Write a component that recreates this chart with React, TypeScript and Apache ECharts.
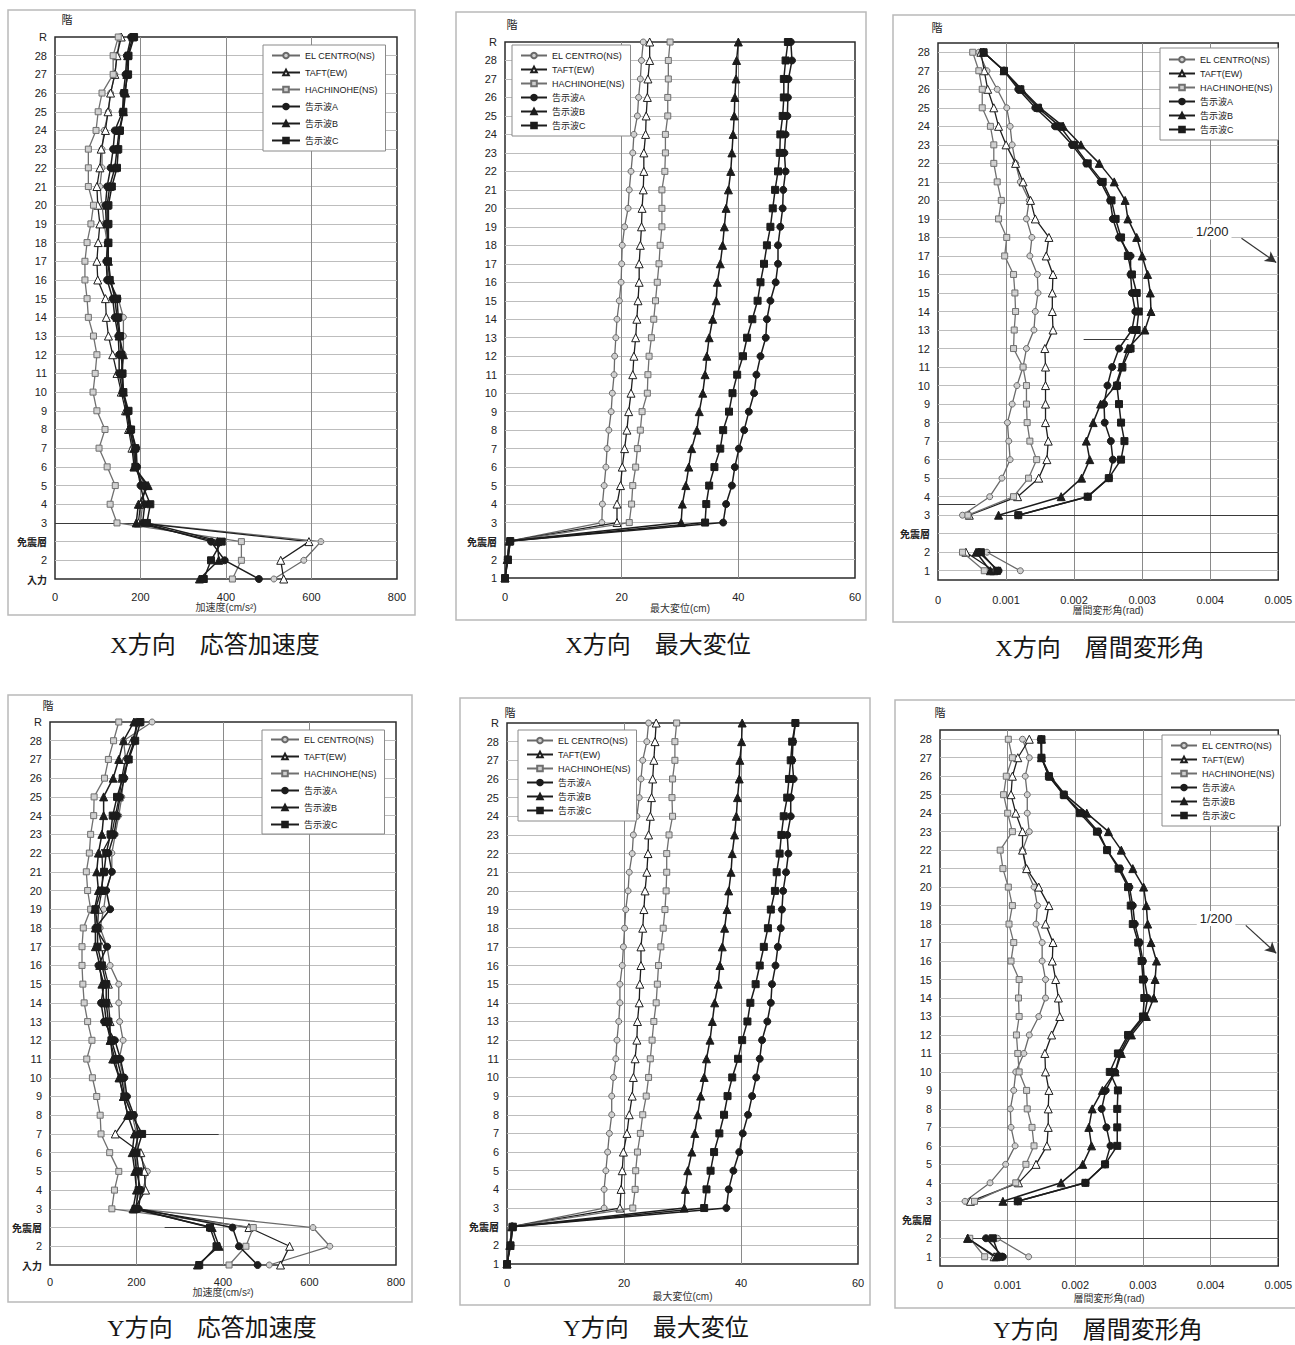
import React, { useEffect, useRef } from "react";
import * as echarts from "echarts";

// Story labels, listed bottom to top
const ACC_LEVELS = ["入力", "2", "免震層", "3", "4", "5", "6", "7", "8", "9", "10", "11", "12", "13", "14", "15", "16", "17", "18", "19", "20", "21", "22", "23", "24", "25", "26", "27", "28", "R"];
const DISP_LEVELS = ["1", "2", "免震層", "3", "4", "5", "6", "7", "8", "9", "10", "11", "12", "13", "14", "15", "16", "17", "18", "19", "20", "21", "22", "23", "24", "25", "26", "27", "28", "R"];
const DRIFT_LEVELS = ["1", "2", "免震層", "3", "4", "5", "6", "7", "8", "9", "10", "11", "12", "13", "14", "15", "16", "17", "18", "19", "20", "21", "22", "23", "24", "25", "26", "27", "28"];

const WAVES = ["EL CENTRO(NS)", "TAFT(EW)", "HACHINOHE(NS)", "告示波A", "告示波B", "告示波C"];

// X direction: response acceleration (cm/s2), 入力 .. R
const X_ACC_ELCENTRO = [512, 582, 622, 200, 205, 210, 190, 182, 175, 168, 160, 158, 160, 160, 160, 148, 125, 120, 122, 115, 110, 105, 110, 110, 115, 125, 130, 140, 145, 152];
const X_ACC_TAFT = [535, 528, 594, 195, 200, 215, 185, 180, 172, 165, 155, 145, 135, 125, 120, 118, 100, 98, 101, 105, 100, 98, 105, 108, 118, 124, 130, 140, 145, 155];
const X_ACC_HACHINOHE = [415, 436, 436, 145, 129, 141, 122, 103, 117, 98, 89, 94, 98, 90, 78, 75, 70, 70, 75, 84, 90, 78, 78, 78, 96, 101, 110, 136, 136, 148];
const X_ACC_A = [477, 397, 365, 205, 210, 200, 192, 190, 178, 170, 158, 150, 150, 148, 140, 135, 122, 120, 124, 120, 118, 122, 130, 136, 140, 158, 160, 165, 168, 178];
const X_ACC_B = [338, 383, 380, 190, 195, 218, 185, 185, 175, 168, 160, 155, 160, 150, 145, 140, 130, 125, 124, 122, 122, 128, 140, 145, 150, 160, 165, 168, 170, 182];
const X_ACC_C = [348, 365, 390, 215, 223, 205, 188, 188, 178, 172, 160, 158, 155, 152, 148, 145, 128, 124, 125, 125, 125, 133, 145, 148, 152, 160, 162, 171, 172, 185];

// X direction: maximum displacement (cm), 1 .. R
const X_DISP_ELCENTRO = [0, 0.4, 0.7, 16.6, 16.7, 17.0, 17.3, 17.5, 17.8, 18.2, 18.4, 18.7, 18.8, 19.0, 19.2, 19.6, 19.9, 20.0, 20.1, 20.5, 21.1, 21.3, 21.6, 21.9, 22.1, 22.7, 22.9, 23.2, 23.4, 23.7];
const X_DISP_TAFT = [0, 0.4, 0.7, 19.2, 19.2, 19.8, 20.1, 20.5, 20.9, 21.2, 21.6, 21.9, 22.1, 22.4, 22.6, 22.8, 23.0, 23.0, 23.2, 23.4, 23.5, 23.7, 23.8, 23.8, 24.1, 24.2, 24.4, 24.5, 24.8, 24.8];
const X_DISP_HACHINOHE = [0, 0.4, 0.8, 21.3, 21.7, 21.9, 22.4, 22.7, 23.2, 23.5, 24.4, 24.5, 24.7, 25.1, 25.5, 25.8, 26.1, 26.4, 26.6, 26.9, 26.9, 26.9, 27.4, 27.5, 27.5, 27.9, 27.9, 28.0, 28.0, 28.3];
const X_DISP_A = [0, 0.5, 0.9, 37.4, 37.9, 38.9, 39.4, 40.1, 41.0, 41.8, 42.7, 43.1, 43.8, 44.7, 44.9, 45.5, 46.4, 46.8, 46.8, 47.2, 47.6, 47.7, 48.1, 47.9, 48.1, 48.4, 48.5, 48.6, 49.2, 49.0];
const X_DISP_B = [0, 0.4, 0.8, 30.2, 30.4, 31.0, 31.5, 32.0, 32.9, 33.3, 33.9, 34.3, 34.6, 35.0, 35.6, 36.2, 36.4, 36.9, 37.3, 37.6, 37.9, 38.3, 38.7, 38.9, 39.1, 39.3, 39.4, 39.6, 39.7, 40.0];
const X_DISP_C = [0, 0.5, 0.9, 34.3, 34.5, 35.0, 35.9, 36.9, 37.4, 38.4, 39.0, 39.8, 40.8, 41.5, 42.4, 43.3, 43.8, 44.4, 44.9, 45.5, 45.9, 46.3, 46.8, 47.1, 47.2, 47.6, 47.8, 47.8, 48.1, 48.5];

// X direction: story drift angle (rad), 1 .. 28 (no value for the isolation story)
const X_DRIFT_ELCENTRO = [0.00121, 0.00072, null, 0.00036, 0.00076, 0.00094, 0.00106, 0.00104, 0.00102, 0.00109, 0.00116, 0.00125, 0.0013, 0.00141, 0.00143, 0.00147, 0.00146, 0.00135, 0.00138, 0.0013, 0.00134, 0.00121, 0.00114, 0.00109, 0.00106, 0.00101, 0.00087, 0.00072, 0.0006];
const X_DRIFT_TAFT = [0.00082, 0.00041, null, 0.00046, 0.00117, 0.00148, 0.0016, 0.00162, 0.00158, 0.00158, 0.00158, 0.00158, 0.00157, 0.00169, 0.00168, 0.00168, 0.00169, 0.00159, 0.00163, 0.00143, 0.00136, 0.00125, 0.00114, 0.001, 0.00089, 0.00082, 0.00073, 0.00068, 0.00063];
const X_DRIFT_HACHINOHE = [0.00068, 0.00036, null, 0.00044, 0.00111, 0.00133, 0.00145, 0.00135, 0.00131, 0.0013, 0.0013, 0.00125, 0.00111, 0.00112, 0.00114, 0.00113, 0.00111, 0.00098, 0.00101, 0.00089, 0.00093, 0.00087, 0.00082, 0.00082, 0.00077, 0.00065, 0.00065, 0.0006, 0.00051];
const X_DRIFT_A = [0.00089, 0.0006, null, 0.00118, 0.0022, 0.00251, 0.00257, 0.00254, 0.00245, 0.00244, 0.00249, 0.00256, 0.00266, 0.00285, 0.0029, 0.00285, 0.00283, 0.00283, 0.00266, 0.00257, 0.00253, 0.00239, 0.00218, 0.00197, 0.00172, 0.00143, 0.00118, 0.00097, 0.00067];
const X_DRIFT_B = [0.00077, 0.00056, null, 0.00089, 0.00181, 0.00211, 0.00223, 0.00218, 0.00228, 0.00239, 0.00261, 0.0027, 0.00279, 0.00304, 0.00313, 0.00312, 0.00308, 0.003, 0.00292, 0.00279, 0.00275, 0.00259, 0.00237, 0.0021, 0.00184, 0.0015, 0.00123, 0.00097, 0.00067];
const X_DRIFT_C = [0.00087, 0.00063, null, 0.00118, 0.0022, 0.00251, 0.00269, 0.00274, 0.00269, 0.00266, 0.00263, 0.00271, 0.00283, 0.00292, 0.00295, 0.00292, 0.00285, 0.00279, 0.00269, 0.00261, 0.00255, 0.00242, 0.0022, 0.002, 0.00179, 0.00147, 0.00121, 0.00097, 0.00067];

// Y direction: response acceleration (cm/s2), 入力 .. R
const Y_ACC_ELCENTRO = [507, 647, 608, 200, 215, 225, 205, 200, 190, 175, 170, 160, 169, 161, 159, 159, 139, 132, 116, 124, 130, 143, 143, 151, 159, 166, 170, 175, 170, 236];
const Y_ACC_TAFT = [533, 554, 460, 195, 221, 218, 210, 151, 180, 170, 160, 150, 139, 139, 135, 135, 124, 120, 110, 112, 120, 122, 120, 143, 151, 160, 166, 174, 190, 205];
const Y_ACC_HACHINOHE = [414, 453, 470, 143, 149, 159, 138, 118, 116, 108, 98, 85, 97, 87, 79, 76, 74, 74, 77, 94, 87, 84, 91, 94, 101, 102, 126, 135, 147, 159];
const Y_ACC_A = [480, 437, 422, 205, 210, 200, 195, 205, 194, 178, 172, 163, 150, 125, 118, 125, 112, 132, 105, 139, 130, 143, 135, 148, 155, 162, 172, 180, 195, 200];
const Y_ACC_B = [341, 391, 375, 192, 200, 196, 190, 195, 180, 170, 160, 145, 140, 130, 125, 120, 115, 105, 105, 103, 112, 108, 112, 120, 124, 124, 146, 159, 170, 194];
const Y_ACC_C = [345, 385, 370, 198, 205, 205, 200, 213, 190, 172, 166, 155, 142, 135, 130, 130, 120, 110, 110, 105, 118, 125, 130, 140, 145, 155, 168, 182, 197, 209];

// Y direction: maximum displacement (cm), 1 .. R
const Y_DISP_ELCENTRO = [0, 0.5, 0.8, 16.6, 16.6, 16.9, 17.2, 17.5, 17.9, 17.9, 18.2, 18.6, 18.8, 19.1, 19.3, 19.3, 19.7, 19.9, 20.1, 20.3, 20.7, 20.9, 21.4, 21.6, 22.2, 22.6, 22.9, 23.2, 23.9, 24.2];
const Y_DISP_TAFT = [0, 0.5, 0.8, 19.3, 19.5, 19.7, 19.9, 20.5, 20.9, 21.4, 21.6, 21.9, 22.2, 22.3, 22.6, 22.7, 22.9, 22.9, 23.2, 23.4, 23.6, 23.9, 24.1, 24.2, 24.5, 24.7, 24.9, 25.1, 25.3, 25.5];
const Y_DISP_HACHINOHE = [0, 0.5, 0.8, 21.5, 21.9, 22.0, 22.3, 22.8, 23.2, 23.8, 24.2, 24.5, 24.8, 25.1, 25.5, 25.7, 25.9, 26.3, 26.7, 27.0, 27.2, 27.3, 27.3, 27.7, 28.3, 28.2, 28.3, 28.7, 28.7, 29.0];
const Y_DISP_A = [0, 0.6, 1.0, 37.5, 37.9, 38.7, 39.7, 40.3, 41.2, 41.9, 42.6, 43.2, 43.6, 44.5, 45.1, 45.3, 45.9, 46.3, 46.8, 47.0, 47.2, 47.7, 48.1, 47.9, 48.5, 48.5, 49.0, 48.75, 48.9, 49.3];
const Y_DISP_B = [0, 0.5, 0.9, 30.3, 30.5, 30.9, 31.6, 32.1, 32.6, 33.1, 33.7, 34.1, 34.7, 35.1, 35.5, 36.1, 36.4, 36.8, 37.2, 37.6, 37.9, 38.3, 38.5, 38.9, 39.2, 39.4, 39.7, 39.8, 40.1, 40.2];
const Y_DISP_C = [0, 0.6, 1.0, 33.7, 34.1, 34.8, 35.4, 36.3, 37.1, 37.7, 38.5, 39.5, 40.2, 41.1, 41.6, 42.5, 43.2, 43.9, 44.6, 45.1, 45.8, 46.1, 46.6, 46.9, 47.3, 47.9, 48.2, 48.5, 48.75, 49.3];

// Y direction: story drift angle (rad), 1 .. 28
const Y_DRIFT_ELCENTRO = [0.00131, 0.00085, null, 0.00037, 0.00074, 0.00097, 0.00111, 0.00105, 0.00104, 0.00109, 0.00112, 0.00124, 0.00132, 0.00146, 0.00156, 0.00156, 0.00151, 0.00151, 0.00142, 0.00144, 0.00139, 0.00127, 0.00122, 0.00132, 0.00129, 0.00129, 0.00126, 0.00132, 0.00122];
const Y_DRIFT_TAFT = [0.0008, 0.00041, null, 0.00045, 0.00116, 0.00142, 0.00158, 0.0016, 0.0016, 0.00161, 0.00156, 0.00155, 0.00165, 0.00177, 0.00175, 0.00171, 0.00166, 0.00167, 0.00156, 0.00161, 0.00146, 0.00128, 0.00122, 0.00122, 0.00112, 0.00105, 0.00107, 0.00115, 0.00132];
const Y_DRIFT_HACHINOHE = [0.00066, 0.00044, null, 0.00051, 0.00112, 0.00127, 0.00139, 0.00136, 0.00129, 0.00128, 0.00117, 0.00115, 0.00113, 0.00117, 0.00116, 0.00117, 0.00105, 0.00109, 0.00102, 0.00107, 0.00101, 0.00093, 0.00089, 0.00107, 0.001, 0.00094, 0.00098, 0.00107, 0.00101];
const Y_DRIFT_A = [0.00093, 0.00068, null, 0.00115, 0.00215, 0.00244, 0.00252, 0.00246, 0.00239, 0.00245, 0.00259, 0.00266, 0.0028, 0.00302, 0.00307, 0.00302, 0.003, 0.00295, 0.00288, 0.00285, 0.0028, 0.00266, 0.00247, 0.00234, 0.0021, 0.00183, 0.00161, 0.0015, 0.00149];
const Y_DRIFT_B = [0.00083, 0.00041, null, 0.00093, 0.00179, 0.00211, 0.00224, 0.0022, 0.00225, 0.0024, 0.00259, 0.00268, 0.00283, 0.00305, 0.00316, 0.00318, 0.0032, 0.00312, 0.00307, 0.00305, 0.00301, 0.00285, 0.00268, 0.00249, 0.00217, 0.00185, 0.00163, 0.0015, 0.0015];
const Y_DRIFT_C = [0.00088, 0.00078, null, 0.00115, 0.00215, 0.00244, 0.00262, 0.00262, 0.00262, 0.00263, 0.00251, 0.00263, 0.00278, 0.003, 0.00302, 0.003, 0.00298, 0.00293, 0.00285, 0.00282, 0.00278, 0.00264, 0.00247, 0.00232, 0.00207, 0.00183, 0.00161, 0.0015, 0.0015];

// Horizontal leader lines drawn across the plots (story index, x from, x to)
const X_ACC_LEADERS = [{ level: 3, from: 0, to: 200, light: false }, { level: 2, from: 210, to: 785, light: true }];
const Y_ACC_LEADERS = [{ level: 7, from: 200, to: 390, light: false }, { level: 2, from: 265, to: 370, light: false }];
const X_DRIFT_LEADERS = [
  { level: 3, from: 0.0009, to: 0.005, light: false },
  { level: 1, from: 0.00073, to: 0.005, light: false },
  { level: 3.6, from: 0, to: 0.00055, light: false },
  { level: 12.5, from: 0.00214, to: 0.0028, light: false },
];
const Y_DRIFT_LEADERS = [
  { level: 3, from: 0.00049, to: 0.005, light: false },
  { level: 1, from: 0.00042, to: 0.005, light: false },
];

// 1/200 drift limit callouts: text position, arrow start, arrow tip (data coords)
const X_DRIFT_LIMIT = { text: "1/200", at: [0.00403, 18.3], from: [0.00446, 17.95], to: [0.00497, 16.65] };
const Y_DRIFT_LIMIT = { text: "1/200", at: [0.00408, 18.3], from: [0.00452, 17.93], to: [0.00497, 16.42] };

const SANS = '"Liberation Sans", Arial, "Noto Sans CJK JP", sans-serif';
const CJK = '"Noto Sans CJK JP", sans-serif';
const SERIF = '"Liberation Serif", "Noto Sans CJK JP", serif';

const STYLES = [
  { symbol: "circle", size: 6, fill: "#cfcfcf", stroke: "#6a6a6a", width: 1.3 },
  { symbol: "triangle", size: 8, fill: "#ffffff", stroke: "#1e1e1e", width: 1.3 },
  { symbol: "rect", size: 6, fill: "#cfcfcf", stroke: "#707070", width: 1.3 },
  { symbol: "circle", size: 7, fill: "#1c1c1c", stroke: "#1c1c1c", width: 1.5 },
  { symbol: "triangle", size: 8, fill: "#1c1c1c", stroke: "#1c1c1c", width: 1.5 },
  { symbol: "rect", size: 7, fill: "#1c1c1c", stroke: "#1c1c1c", width: 1.5 },
];

const driftFmt = (v: number) => (v === 0 ? "0" : v.toFixed(3));

type Panel = {
  title: string;
  levels: string[];
  values: (number | null)[][];
  xMax: number;
  xStep: number;
  xFmt?: (v: number) => string;
  xName: string;
  yMin: number;
  yMax: number;
  yStep: number;
  grid: { left: number; top: number; width: number; height: number };
  frame: [number, number, number, number];
  story: [number, number];
  caption: [number, number];
  legend: { left: number; top: number; gap: number; pad: number[]; iw: number };
  labelMargin: number;
  nameGap: number;
  leaders?: { level: number; from: number; to: number; light: boolean }[];
  limit?: { text: string; at: number[]; from: number[]; to: number[] };
};

const PANELS: Panel[] = [
  {
    title: "X方向　応答加速度",
    levels: ACC_LEVELS,
    values: [X_ACC_ELCENTRO, X_ACC_TAFT, X_ACC_HACHINOHE, X_ACC_A, X_ACC_B, X_ACC_C],
    xMax: 800, xStep: 200, xName: "加速度(cm/s²)",
    yMin: 0, yMax: 29, yStep: 1,
    grid: { left: 55, top: 37, width: 342, height: 542 },
    frame: [8, 10, 407, 605], story: [67, 19], caption: [215, 645],
    legend: { left: 263, top: 45, gap: 8, pad: [6, 8, 6, 8], iw: 28 },
    labelMargin: 12, nameGap: 22,
    leaders: X_ACC_LEADERS,
  },
  {
    title: "X方向　最大変位",
    levels: DISP_LEVELS,
    values: [X_DISP_ELCENTRO, X_DISP_TAFT, X_DISP_HACHINOHE, X_DISP_A, X_DISP_B, X_DISP_C],
    xMax: 60, xStep: 20, xName: "最大変位(cm)",
    yMin: 0, yMax: 29, yStep: 1,
    grid: { left: 505, top: 42, width: 350, height: 536 },
    frame: [456, 12, 410, 608], story: [512, 24], caption: [658, 645],
    legend: { left: 512, top: 45, gap: 5, pad: [6, 6, 6, 8], iw: 26 },
    labelMargin: 13, nameGap: 25,
  },
  {
    title: "X方向　層間変形角",
    levels: DRIFT_LEVELS,
    values: [X_DRIFT_ELCENTRO, X_DRIFT_TAFT, X_DRIFT_HACHINOHE, X_DRIFT_A, X_DRIFT_B, X_DRIFT_C],
    xMax: 0.005, xStep: 0.001, xFmt: driftFmt, xName: "層間変形角(rad)",
    yMin: -0.5, yMax: 28.5, yStep: 0.5,
    grid: { left: 938, top: 43, width: 344, height: 537 },
    frame: [893, 15, 412, 607], story: [937, 27], caption: [1100, 648],
    legend: { left: 1160, top: 48, gap: 5, pad: [7, 6, 6, 8], iw: 26 },
    labelMargin: 14, nameGap: 25,
    leaders: X_DRIFT_LEADERS, limit: X_DRIFT_LIMIT,
  },
  {
    title: "Y方向　応答加速度",
    levels: ACC_LEVELS,
    values: [Y_ACC_ELCENTRO, Y_ACC_TAFT, Y_ACC_HACHINOHE, Y_ACC_A, Y_ACC_B, Y_ACC_C],
    xMax: 800, xStep: 200, xName: "加速度(cm/s²)",
    yMin: 0, yMax: 29, yStep: 1,
    grid: { left: 50, top: 722, width: 346, height: 543 },
    frame: [8, 695, 404, 607], story: [48, 705], caption: [212, 1328],
    legend: { left: 262, top: 730, gap: 8, pad: [5, 8, 5, 8], iw: 28 },
    labelMargin: 11, nameGap: 21,
    leaders: Y_ACC_LEADERS,
  },
  {
    title: "Y方向　最大変位",
    levels: DISP_LEVELS,
    values: [Y_DISP_ELCENTRO, Y_DISP_TAFT, Y_DISP_HACHINOHE, Y_DISP_A, Y_DISP_B, Y_DISP_C],
    xMax: 60, xStep: 20, xName: "最大変位(cm)",
    yMin: 0, yMax: 29, yStep: 1,
    grid: { left: 507, top: 723, width: 351, height: 541 },
    frame: [460, 698, 410, 607], story: [510, 712], caption: [656, 1328],
    legend: { left: 518, top: 730, gap: 5, pad: [6, 6, 6, 8], iw: 26 },
    labelMargin: 13, nameGap: 27,
  },
  {
    title: "Y方向　層間変形角",
    levels: DRIFT_LEVELS,
    values: [Y_DRIFT_ELCENTRO, Y_DRIFT_TAFT, Y_DRIFT_HACHINOHE, Y_DRIFT_A, Y_DRIFT_B, Y_DRIFT_C],
    xMax: 0.005, xStep: 0.001, xFmt: driftFmt, xName: "層間変形角(rad)",
    yMin: -0.5, yMax: 28.5, yStep: 0.5,
    grid: { left: 940, top: 730, width: 343, height: 536 },
    frame: [895, 700, 412, 608], story: [940, 712], caption: [1098, 1330],
    legend: { left: 1162, top: 735, gap: 5, pad: [6, 6, 6, 8], iw: 26 },
    labelMargin: 13, nameGap: 27,
    leaders: Y_DRIFT_LEADERS, limit: Y_DRIFT_LIMIT,
  },
];

function buildOption() {
  const series: any[] = [];
  PANELS.forEach((p, pi) => {
    p.values.forEach((vals, si) => {
      const st = STYLES[si];
      const s: any = {
        type: "line",
        name: WAVES[si],
        xAxisIndex: pi,
        yAxisIndex: pi,
        data: vals.map((v, i) => [v, i]),
        symbol: st.symbol,
        symbolSize: st.size,
        showSymbol: true,
        connectNulls: false,
        lineStyle: { color: st.stroke, width: st.width },
        itemStyle: { color: st.fill, borderColor: st.stroke, borderWidth: 1 },
        emphasis: { disabled: true },
        z: 3 + si,
      };
      if (si === 3 && p.leaders) {
        s.markLine = {
          silent: true,
          symbol: ["none", "none"],
          label: { show: false },
          data: p.leaders.map((l) => [
            { coord: [l.from, l.level], lineStyle: { color: l.light ? "#a8a8a8" : "#3a3a3a", width: 1, type: "solid" } },
            { coord: [l.to, l.level] },
          ]),
        };
      }
      if (si === 4 && p.limit) {
        s.markLine = {
          silent: true,
          symbol: ["none", "arrow"],
          symbolSize: [9, 11],
          label: { show: false },
          lineStyle: { color: "#333", width: 1.2, type: "solid" },
          data: [[{ coord: p.limit.from }, { coord: p.limit.to }]],
        };
      }
      if (si === 5 && p.limit) {
        s.markPoint = {
          silent: true,
          symbol: "rect",
          symbolSize: 1,
          itemStyle: { color: "rgba(0,0,0,0)" },
          label: {
            show: true,
            position: "inside",
            formatter: p.limit.text,
            fontSize: 13,
            fontFamily: SANS,
            color: "#222",
            backgroundColor: "#fff",
            padding: [1, 3],
          },
          data: [{ coord: p.limit.at }],
        };
      }
      series.push(s);
    });
  });

  return {
    animation: false,
    backgroundColor: "#ffffff",
    grid: PANELS.map((p) => ({
      ...p.grid,
      show: true,
      backgroundColor: "#ffffff",
      borderColor: "#2b2b2b",
      borderWidth: 1.5,
    })),
    xAxis: PANELS.map((p, i) => ({
      type: "value",
      gridIndex: i,
      min: 0,
      max: p.xMax,
      interval: p.xStep,
      axisLine: { show: false },
      axisTick: { show: false },
      axisLabel: {
        margin: p.labelMargin,
        fontSize: 11,
        color: "#222",
        fontFamily: SANS,
        showMinLabel: true,
        showMaxLabel: true,
        formatter: p.xFmt ? p.xFmt : (v: number) => String(v),
      },
      splitLine: { show: true, showMinLine: false, showMaxLine: false, lineStyle: { color: "#8a8a8a", width: 1 } },
      name: p.xName,
      nameLocation: "middle",
      nameGap: p.nameGap,
      nameTextStyle: { fontSize: 10, color: "#333", fontFamily: SANS },
    })),
    yAxis: PANELS.map((p, i) => ({
      type: "value",
      gridIndex: i,
      min: p.yMin,
      max: p.yMax,
      interval: p.yStep,
      axisLine: { show: false },
      axisTick: { show: false },
      axisLabel: {
        margin: 8,
        fontSize: 11,
        color: "#222",
        fontFamily: SANS,
        showMinLabel: true,
        showMaxLabel: true,
        formatter: (v: number) => {
          if (!Number.isInteger(v) || v < 0 || v >= p.levels.length) return "";
          const t = p.levels[v];
          return /^[0-9R]+$/.test(t) ? t : "{k|" + t + "}";
        },
        rich: { k: { fontSize: 10, fontFamily: CJK, color: "#222", fontWeight: "bold" } },
      },
      splitLine: {
        show: true,
        showMinLine: p.yStep !== 1,
        showMaxLine: p.yStep !== 1,
        lineStyle: { color: p.yStep === 1 ? "#bdbdbd" : ["rgba(0,0,0,0)", "#bdbdbd"], width: 1 },
      },
    })),
    legend: PANELS.map((p) => ({
      left: p.legend.left,
      top: p.legend.top,
      orient: "vertical",
      itemWidth: p.legend.iw,
      itemHeight: 7,
      itemGap: p.legend.gap,
      padding: p.legend.pad,
      backgroundColor: "#ffffff",
      borderColor: "#8a8a8a",
      borderWidth: 1,
      selectedMode: false,
      textStyle: { fontSize: 9, color: "#222", fontFamily: SANS },
      data: WAVES,
    })),
    series,
    graphic: [
      ...PANELS.map((p) => ({
        type: "rect",
        silent: true,
        shape: { x: p.frame[0], y: p.frame[1], width: p.frame[2], height: p.frame[3] },
        style: { fill: "none", stroke: "#b9b9b9", lineWidth: 1.5 },
      })),
      ...PANELS.map((p) => ({
        type: "text",
        silent: true,
        x: p.story[0],
        y: p.story[1],
        style: { text: "階", fontSize: 11, fontFamily: CJK, fill: "#222", align: "center", verticalAlign: "middle" },
      })),
      ...PANELS.map((p) => ({
        type: "text",
        silent: true,
        x: p.caption[0],
        y: p.caption[1],
        style: { text: p.title, fontSize: 24, fontFamily: SERIF, fill: "#161616", align: "center", verticalAlign: "middle" },
      })),
    ],
  };
}

export default function App() {
  const ref = useRef<HTMLDivElement>(null);
  useEffect(() => {
    if (!ref.current) return;
    const chart = echarts.init(ref.current, undefined, { renderer: "svg" });
    chart.setOption(buildOption() as any);
    return () => chart.dispose();
  }, []);
  return (
    <div
      ref={ref}
      style={{ position: "absolute", left: 0, top: 0, width: 1295, height: 1345, background: "#ffffff" }}
    />
  );
}
